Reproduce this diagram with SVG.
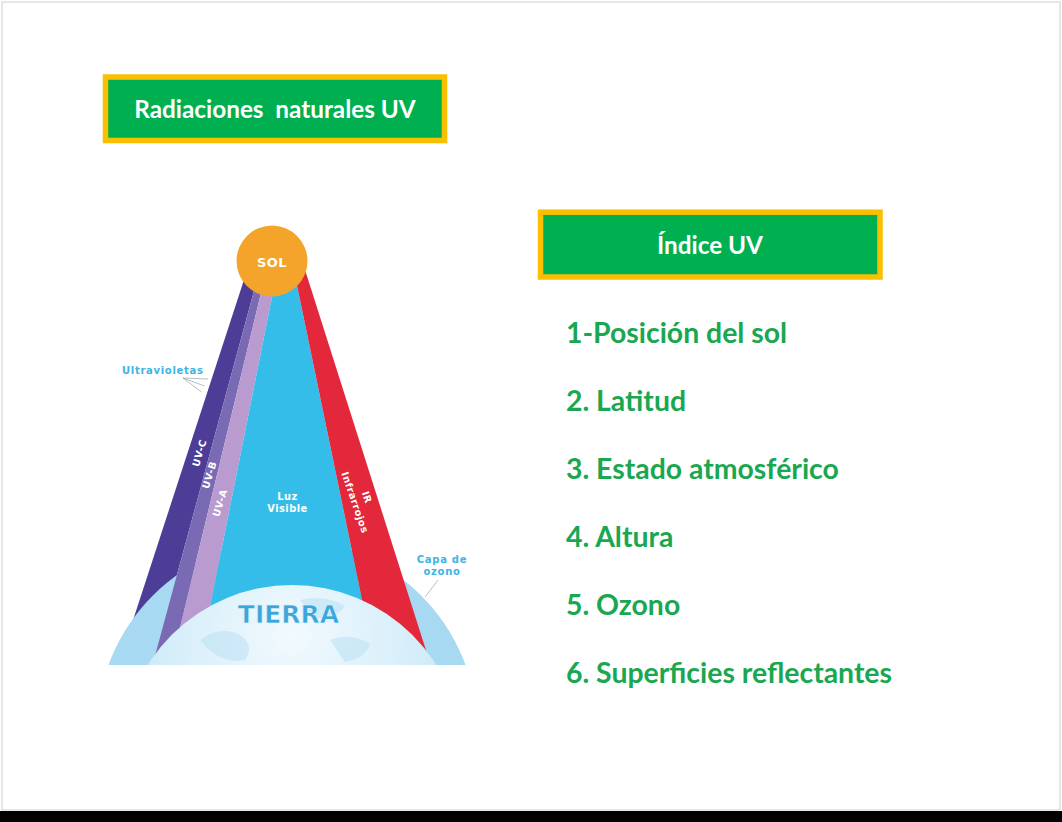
<svg xmlns="http://www.w3.org/2000/svg" width="1062" height="822" viewBox="0 0 1062 822">
<defs>
<style>
.box{fill:#00b050;stroke:#fac000;stroke-width:5.5}
.btxt{font-family:Lato,"Liberation Sans",sans-serif;font-weight:700;font-size:24.3px;fill:#ffffff;text-anchor:middle}
.item{font-family:Lato,"Liberation Sans",sans-serif;font-weight:700;font-size:28.4px;fill:#1aa751}
.lbl{font-family:"DejaVu Sans","Liberation Sans",sans-serif;font-weight:700;font-size:9.8px;fill:#ffffff;text-anchor:middle;letter-spacing:0.5px}
.cy{font-family:"DejaVu Sans","Liberation Sans",sans-serif;font-weight:700;font-size:10px;fill:#3db4e2;letter-spacing:0.7px}
.lead{stroke:#9aa4a8;stroke-width:0.7;fill:none}
</style>
<clipPath id="photo"><rect x="105" y="205" width="367" height="460"/></clipPath>
<radialGradient id="earthG" cx="0.5" cy="0.15" r="0.75">
<stop offset="0" stop-color="#f2fafe"/>
<stop offset="0.5" stop-color="#d4edf9"/>
<stop offset="1" stop-color="#a9d8f0"/>
</radialGradient>
</defs>
<rect x="0" y="0" width="1062" height="822" fill="#ffffff"/>
<rect x="2" y="2" width="1058" height="808" fill="none" stroke="#cfcfcf" stroke-width="1"/>
<rect x="0" y="811" width="1062" height="11" fill="#000000"/>

<g id="title-radiaciones">
<rect class="box" x="105.5" y="77" width="339" height="63.5"/>
<text class="btxt" x="275" y="117.5" xml:space="preserve">Radiaciones  naturales UV</text>
</g>

<g id="title-indice">
<rect class="box" x="540.5" y="212.2" width="339.5" height="64.8"/>
<text class="btxt" x="710" y="253.5">Índice UV</text>
</g>

<g id="list">
<text class="item" x="566" y="343">1-Posición del sol</text>
<text class="item" x="566" y="411">2. Latitud</text>
<text class="item" x="566" y="479">3. Estado atmosférico</text>
<text class="item" x="566" y="547">4. Altura</text>
<text class="item" x="566" y="615">5. Ozono</text>
<text class="item" x="566" y="683">6. Superficies reflectantes</text>
</g>

<g id="radiation-diagram" clip-path="url(#photo)">
<polygon id="beam-uvc" points="253.7,250 265.1,250 143,700 107,700" fill="#4e3d97"/>
<circle id="ozone" cx="287" cy="730" r="190" fill="#a8d9f2"/>
<polygon id="beam-uvb" points="265.1,250 271.4,250 162.5,700 143,700" fill="#7a6ab4"/>
<polygon id="beam-uva" points="271.4,250 281.4,250 191.4,700 162.5,700" fill="#b99bd0"/>
<polygon id="beam-visible" points="281.4,250 289.7,250 382.8,700 191.4,700" fill="#35bdea"/>
<polygon id="beam-ir" points="289.7,250 298.7,250 441.8,700 382.8,700" fill="#e2283a"/>
<circle id="earth" cx="292" cy="755" r="170" fill="url(#earthG)"/>
<path d="M200,640 q20,-15 40,-5 q15,10 5,25 q-25,5 -45,-20z M300,600 q25,-6 45,6 q-10,14 -30,12z M330,640 q20,-8 40,4 q-5,15 -25,18z" fill="#c3e4f5" opacity="0.7"/>
<circle id="sun" cx="272" cy="261" r="35.5" fill="#f4a42b"/>
</g>

<g id="connectors">
<line class="lead" x1="183" y1="378" x2="208" y2="379"/>
<line class="lead" x1="183" y1="378" x2="204.5" y2="386"/>
<line class="lead" x1="183" y1="378" x2="201.5" y2="392"/>
<line class="lead" x1="438" y1="580" x2="425" y2="597"/>
</g>

<g id="labels">
<text class="lbl" x="272" y="267" style="font-size:13px">SOL</text>
<text class="cy" x="122" y="374">Ultravioletas</text>
<text class="lbl" transform="translate(199.5,453) rotate(-73)" y="3.4">UV-C</text>
<text class="lbl" transform="translate(209.5,475) rotate(-73)" y="3.4">UV-B</text>
<text class="lbl" transform="translate(220,503) rotate(-73)" y="3.4">UV-A</text>
<text class="lbl" x="287.5" y="500">Luz</text>
<text class="lbl" x="287.5" y="512">Visible</text>
<g transform="translate(355,502.5) rotate(71)">
<text class="lbl" x="-1" y="-9.5">IR</text>
<text class="lbl" x="0" y="3.4">Infrarrojos</text>
</g>
<text class="cy" x="442" y="563" text-anchor="middle">Capa de</text>
<text class="cy" x="442" y="575" text-anchor="middle">ozono</text>
<text x="288.5" y="623" text-anchor="middle" style="font-family:'DejaVu Sans','Liberation Sans',sans-serif;font-weight:700;font-size:25px;fill:#3aa6da;stroke:#e6f5fc;stroke-width:0.6">TIERRA</text>
</g>
</svg>
